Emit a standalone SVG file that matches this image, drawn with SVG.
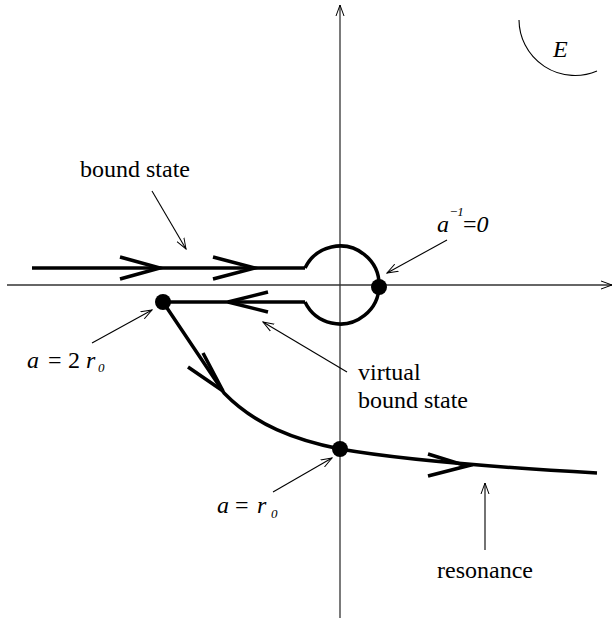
<svg xmlns="http://www.w3.org/2000/svg" width="615" height="619" viewBox="0 0 615 619">
<defs>
<style>
.axis{stroke:#333;stroke-width:1.3;fill:none}
.thick{stroke:#000;stroke-width:3.5;fill:none;stroke-linecap:butt}
.thin{stroke:#000;stroke-width:1.1;fill:none}
.dot{fill:#000}
.lbl{font-family:"Liberation Serif","Times New Roman",serif;font-size:24px;fill:#000}
.math{font-family:"Liberation Serif","Times New Roman",serif;font-size:24px;font-style:italic;fill:#000}
.sub{font-size:13px}
</style>
<marker id="open" viewBox="0 0 12 10" refX="11" refY="5" markerWidth="12" markerHeight="10" markerUnits="userSpaceOnUse" orient="auto">
<path d="M0,1 L11,5 L0,9" fill="none" stroke="#000" stroke-width="1"/>
</marker>
</defs>
<g id="axes">
<line class="axis" x1="7" y1="285" x2="612" y2="285" marker-end="url(#open)"/>
<line class="axis" x1="340" y1="618" x2="340" y2="5" marker-end="url(#open)"/>
</g>
<g id="e-plane">
<path class="thin" d="M519,20 A56,56 0 0 0 597,71"/>
<text class="math" x="553" y="57">E</text>
</g>
<g id="connectors">
<path class="thick" d="M32,268 L305,268"/>
<path class="thick" d="M305,268 A39,39 0 1 1 305,302"/>
<path class="thick" d="M305,302 L163,302"/>
<path class="thick" d="M163,302 L224,393 C255,425 295,440 340,449 Q420,463 597,473"/>
<path class="thick" d="M120,257 L160,268 L120,279"/>
<path class="thick" d="M213,257 L255,268 L213,279"/>
<path class="thick" d="M268,292 L228,302 L268,312"/>
<path class="thick" d="M203,353 L223,391 L188,367"/>
<path class="thick" d="M428,454 L467,466 L428,476"/>
<line class="thin" x1="152" y1="191" x2="186" y2="249" marker-end="url(#open)"/>
<line class="thin" x1="447" y1="240" x2="387" y2="273" marker-end="url(#open)"/>
<line class="thin" x1="92" y1="343" x2="152" y2="310" marker-end="url(#open)"/>
<line class="thin" x1="347" y1="372" x2="263" y2="322" marker-end="url(#open)"/>
<line class="thin" x1="273" y1="492" x2="332" y2="458" marker-end="url(#open)"/>
<line class="thin" x1="485" y1="550" x2="485" y2="483" marker-end="url(#open)"/>
</g>
<g id="point-ainv">
<circle class="dot" cx="379" cy="287" r="8"/>
<text class="math" x="437" y="232">a</text>
<text class="math sub" x="450" y="216"><tspan font-style="normal">−</tspan>1</text>
<text class="math" x="463" y="232"><tspan font-style="normal">=</tspan>0</text>
</g>
<g id="point-2r0">
<circle class="dot" cx="163" cy="302" r="8"/>
<text class="math" x="27" y="368">a<tspan x="48" font-style="normal">=</tspan><tspan x="68" font-style="normal">2</tspan><tspan x="86">r</tspan><tspan class="sub" x="98" y="372">0</tspan></text>
</g>
<g id="point-r0">
<circle class="dot" cx="340" cy="449" r="8"/>
<text class="math" x="217" y="513">a<tspan x="235" font-style="normal">=</tspan><tspan x="257">r</tspan><tspan class="sub" x="271" y="518">0</tspan></text>
</g>
<g id="label-bound">
<text class="lbl" x="80" y="177">bound state</text>
</g>
<g id="label-virtual">
<text class="lbl" x="358" y="380">virtual</text>
<text class="lbl" x="358" y="408">bound state</text>
</g>
<g id="label-resonance">
<text class="lbl" x="437" y="578">resonance</text>
</g>
</svg>
